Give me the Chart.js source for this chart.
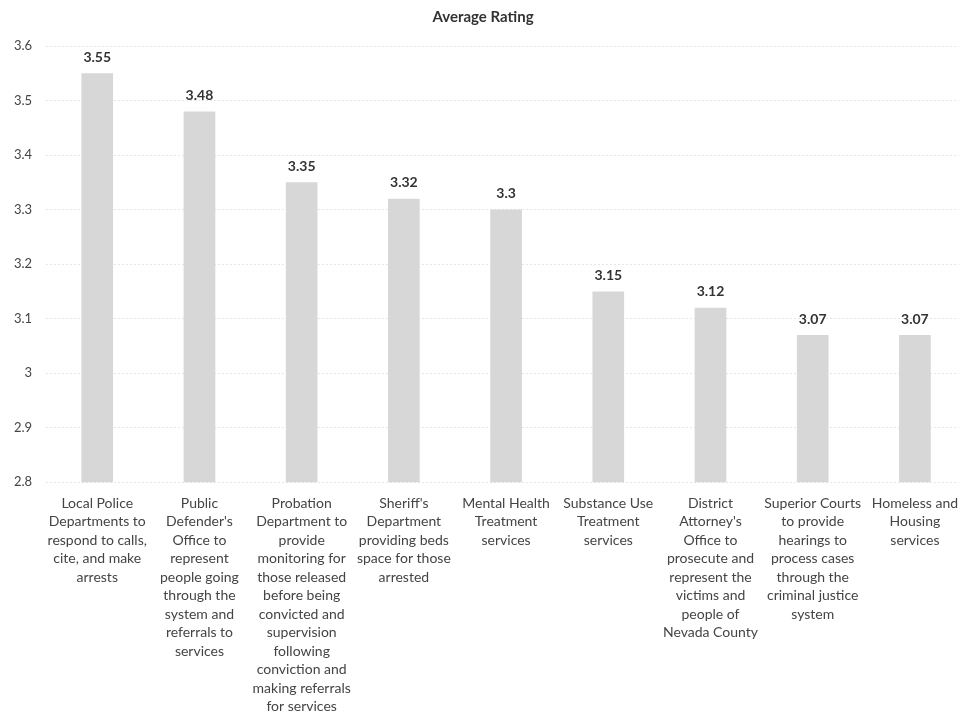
<!DOCTYPE html>
<html>
<head>
<meta charset="utf-8">
<script src="https://cdn.jsdelivr.net/npm/chart.js@4"></script>
<style>
html,body{margin:0;padding:0;background:#fff;overflow:hidden;}
#wrap{width:966px;height:720px;position:relative;}
</style>
</head>
<body>
<div id="wrap"><canvas id="c"></canvas></div>
<script>
const titleText = "Average Rating";
const categories = [
  ["Local Police", "Departments to", "respond to calls,", "cite, and make", "arrests"],
  ["Public", "Defender's", "Office to", "represent", "people going", "through the", "system and", "referrals to", "services"],
  ["Probation", "Department to", "provide", "monitoring for", "those released", "before being", "convicted and", "supervision", "following", "conviction and", "making referrals", "for services"],
  ["Sheriff's", "Department", "providing beds", "space for those", "arrested"],
  ["Mental Health", "Treatment", "services"],
  ["Substance Use", "Treatment", "services"],
  ["District", "Attorney's", "Office to", "prosecute and", "represent the", "victims and", "people of", "Nevada County"],
  ["Superior Courts", "to provide", "hearings to", "process cases", "through the", "criminal justice", "system"],
  ["Homeless and", "Housing", "services"]
];
const ratings = [3.55, 3.48, 3.35, 3.32, 3.3, 3.15, 3.12, 3.07, 3.07];
const valueLabels = ["3.55", "3.48", "3.35", "3.32", "3.3", "3.15", "3.12", "3.07", "3.07"];
const yMin = 2.8, yMax = 3.6, yStep = 0.1;

const FONT = 'Lato, "Open Sans", sans-serif';

const labelPlugin = {
  id: 'valueLabels',
  afterDatasetsDraw(chart) {
    const ctx = chart.ctx;
    const meta = chart.getDatasetMeta(0);
    ctx.save();
    ctx.font = 'bold 14px ' + FONT;
    ctx.fillStyle = '#333';
    ctx.textAlign = 'center';
    ctx.textBaseline = 'bottom';
    meta.data.forEach((bar, i) => {
      ctx.fillText(valueLabels[i], bar.x, bar.y - 9);
    });
    ctx.restore();
  }
};

new Chart(document.getElementById('c'), {
  type: 'bar',
  data: {
    labels: categories,
    datasets: [{
      data: ratings,
      backgroundColor: '#d7d7d7',
      borderWidth: 0,
      barPercentage: 0.31,
      categoryPercentage: 1.0
    }]
  },
  options: {
    responsive: true,
    maintainAspectRatio: false,
    animation: false,
    layout: { padding: { top: 0, left: 0, right: 0, bottom: 0 } },
    plugins: {
      legend: { display: false },
      tooltip: { enabled: false },
      title: {
        display: true,
        text: titleText,
        color: '#333',
        font: { family: FONT, size: 15, weight: 'bold' },
        padding: { top: 8, bottom: 20 }
      }
    },
    scales: {
      x: {
        grid: { display: false },
        border: { display: false },
        ticks: {
          color: '#444',
          font: { family: FONT, size: 14, lineHeight: 1.32 },
          maxRotation: 0,
          minRotation: 0,
          autoSkip: false,
          padding: 4
        }
      },
      y: {
        min: yMin,
        max: yMax,
        grid: { color: '#e6e6e6', drawTicks: false },
        border: { display: false, dash: [2, 2] },
        ticks: {
          stepSize: yStep,
          color: '#444',
          padding: 14,
          font: { family: FONT, size: 13 },
          callback: (v) => Math.round(v * 10) / 10
        }
      }
    }
  },
  plugins: [labelPlugin]
});
</script>
</body>
</html>
